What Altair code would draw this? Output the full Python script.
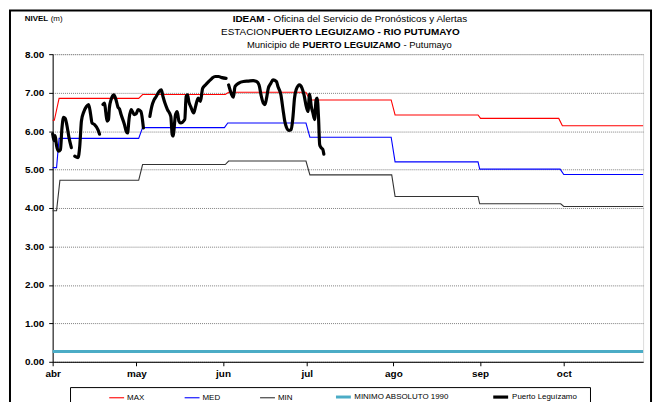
import altair as alt
import pandas as pd

# ---------------- data ----------------
series = ["MAX", "MED", "MIN", "MINIMO ABSOLUTO 1990", "Puerto Leguízamo"]
colores = ["#ff0000", "#0000ff", "#333333", "#4bacc6", "#000000"]
grosores = [1.1, 1.1, 1.1, 3.0, 3.2]

meses_dia = [0, 30, 61, 91, 122, 153, 183]
meses_txt = ["abr", "may", "jun", "jul", "ago", "sep", "oct"]
niveles_ticks = [0, 1, 2, 3, 4, 5, 6, 7, 8]

max_dia = [0, 0.6, 2.3, 30.8, 32.2, 61.8, 63.0, 90.7, 92.1, 121.2, 122.6, 152.3, 153.2, 181.2, 182.5, 211.4]
max_val = [6.28, 6.28, 6.85, 6.85, 6.95, 6.95, 7.01, 7.01, 6.81, 6.81, 6.42, 6.42, 6.33, 6.33, 6.14, 6.14]

med_dia = [0, 1.4, 2.3, 30.8, 32.2, 61.5, 62.7, 90.7, 92.1, 121.2, 122.6, 152.3, 152.9, 181.7, 183.0, 211.4]
med_val = [5.05, 5.05, 5.81, 5.81, 6.09, 6.09, 6.21, 6.21, 5.84, 5.84, 5.20, 5.20, 5.01, 5.01, 4.87, 4.87]

min_dia = [0, 1.4, 2.6, 30.8, 32.2, 61.8, 63.0, 90.7, 92.1, 121.4, 122.6, 152.3, 152.9, 181.9, 183.0, 211.4]
min_val = [3.93, 3.93, 4.72, 4.72, 5.13, 5.13, 5.22, 5.22, 4.86, 4.86, 4.30, 4.30, 4.11, 4.11, 4.04, 4.04]

abs_dia = [0, 211.4]
abs_val = [0.27, 0.27]

pl_dia_1 = [0.0, 0.5, 0.9, 1.4, 2.1, 2.8, 3.3, 3.9, 4.5, 5.1, 5.8, 6.7]
pl_val_1 = [5.93, 5.75, 5.88, 5.62, 5.48, 5.52, 6.05, 6.36, 6.33, 6.15, 5.85, 5.57]

pl_dia_2 = [7.9, 9.1, 9.7, 10.3, 11.2, 12.1, 12.9, 13.6, 14.1, 15.0, 16.2, 16.8]
pl_val_2 = [5.35, 5.31, 5.60, 6.26, 6.51, 6.64, 6.69, 6.43, 6.21, 6.17, 6.04, 5.92]

pl_dia_3 = [18.0, 18.6, 19.0, 19.5, 20.0, 20.3, 20.9, 21.9, 22.7, 23.4, 23.9, 24.5, 25.7, 26.3, 26.8,
            27.4, 28.1, 28.6, 29.2, 29.9, 30.6, 31.6, 32.5]
pl_val_3 = [6.69, 6.73, 6.50, 6.26, 6.30, 6.60, 6.81, 6.94, 6.81, 6.62, 6.58, 6.43, 6.17, 6.00, 5.95,
            6.34, 6.56, 6.50, 6.43, 6.45, 6.56, 6.51, 6.08]

pl_dia_4 = [34.8, 35.5, 36.3, 37.1, 38.1, 38.9, 39.5, 40.2, 41.1, 42.3, 42.8, 43.1, 44.0, 44.6, 45.2,
            45.8, 47.3, 47.8, 48.3, 48.8, 49.4, 50.5, 51.2, 52.1, 52.9, 53.7, 54.7, 55.9, 57.0, 58.2,
            59.4, 60.6, 62.1]
pl_val_4 = [6.38, 6.64, 6.81, 6.90, 7.03, 7.07, 6.90, 6.73, 6.56, 6.38, 5.91, 5.87, 6.43, 6.51, 6.26,
            6.21, 6.30, 6.90, 6.94, 6.75, 6.64, 6.47, 6.65, 6.86, 6.77, 7.11, 7.20, 7.29, 7.37, 7.42,
            7.42, 7.39, 7.37]

pl_dia_5 = [63.0, 63.6, 64.1, 64.7, 65.3, 66.5, 68.3, 70.1, 71.8, 73.0, 73.9, 74.6, 75.4, 76.0, 76.6,
            77.2, 78.1, 78.9, 80.1, 80.7, 81.7, 82.5, 83.1, 83.7, 84.5, 85.4, 86.0, 86.6, 87.2, 88.4,
            89.2, 90.0, 90.8, 91.4, 92.0, 92.6, 93.2, 93.8, 94.3, 94.7, 95.2, 95.6, 96.1, 96.7, 97.1]
pl_val_5 = [7.20, 7.05, 6.95, 6.88, 7.16, 7.24, 7.29, 7.30, 7.31, 7.29, 7.20, 6.94, 6.73, 6.69, 6.86,
            7.11, 7.24, 7.33, 7.29, 7.15, 6.95, 6.55, 6.26, 6.10, 6.02, 6.04, 6.34, 6.86, 7.08, 7.20,
            7.13, 6.94, 6.64, 6.51, 6.96, 6.64, 6.47, 6.30, 6.81, 6.86, 6.34, 5.65, 5.57, 5.53, 5.40]

# ---------------- tables ----------------
def rows_of(serie, tramo, dias, vals):
    return [{"serie": serie, "tramo": tramo, "dia": d, "nivel": v} for d, v in zip(dias, vals)]

ref_rows = (rows_of("MINIMO ABSOLUTO 1990", "a", abs_dia, abs_val)
            + rows_of("MIN", "m", min_dia, min_val)
            + rows_of("MED", "d", med_dia, med_val)
            + rows_of("MAX", "x", max_dia, max_val))
df_ref = pd.DataFrame(ref_rows)

pl_rows = []
for i, (d, v) in enumerate([(pl_dia_1, pl_val_1), (pl_dia_2, pl_val_2), (pl_dia_3, pl_val_3),
                            (pl_dia_4, pl_val_4), (pl_dia_5, pl_val_5)]):
    pl_rows += rows_of("Puerto Leguízamo", "t%d" % i, d, v)
df_pl = pd.DataFrame(pl_rows)

FONT = "Liberation Sans"
W, H = 595, 310

label_expr = "%s[indexof(%s, datum.value)]" % (str(meses_txt), str(meses_dia))

x_enc = alt.X(
    "dia:Q",
    scale=alt.Scale(domain=[0, 211.4], nice=False, zero=False),
    axis=alt.Axis(values=meses_dia, labelExpr=label_expr, title=None, grid=False,
                  tickSize=4, labelPadding=3, labelFontWeight="bold", labelFontSize=10,
                  labelColor="black", domainColor="black", tickColor="black",
                  labelFlush=False, labelOverlap=False, labelFont=FONT),
)
y_enc = alt.Y(
    "nivel:Q",
    scale=alt.Scale(domain=[0, 8], nice=False, zero=True),
    axis=alt.Axis(values=niveles_ticks, format=".2f", title=None, grid=True,
                  gridDash=[1, 1], gridColor="#808080", gridWidth=1,
                  tickSize=4, labelPadding=5, labelFontWeight="bold", labelFontSize=10,
                  labelColor="black", domainColor="black", tickColor="black",
                  labelFont=FONT),
)

leg = alt.Legend(title=None, orient="none", legendX=56, legendY=336, direction="horizontal",
                 symbolType="stroke", symbolSize=225, labelFontSize=8, labelFont=FONT,
                 labelColor="black", columnPadding=37, labelOffset=2, padding=0)

color_enc = alt.Color("serie:N", scale=alt.Scale(domain=series, range=colores), legend=leg)
sw_enc = alt.StrokeWidth("serie:N",
                         scale=alt.Scale(type="ordinal", domain=series, range=grosores),
                         legend=leg)

ref_lines = alt.Chart(df_ref).mark_line(strokeCap="butt").encode(
    x=x_enc, y=y_enc, color=color_enc, strokeWidth=sw_enc, detail="tramo:N"
)
pl_line = alt.Chart(df_pl).mark_line(interpolate="monotone", strokeCap="round",
                                     strokeJoin="round").encode(
    x=x_enc, y=y_enc, color=color_enc, strokeWidth=sw_enc, detail="tramo:N"
)

one = alt.Data(values=[{"k": 1}])

frame = alt.Chart(one).mark_rect(filled=False, stroke="black", strokeWidth=2).encode(
    x=alt.value(-43), x2=alt.value(603), y=alt.value(-44), y2=alt.value(420)
)
legend_box = alt.Chart(one).mark_rect(filled=False, stroke="black", strokeWidth=1).encode(
    x=alt.value(18), x2=alt.value(542), y=alt.value(336), y2=alt.value(420)
)

def txt(s, x, y, bold=False, align="left", size=10):
    return alt.Chart(one).mark_text(
        text=s, align=align, baseline="middle", font=FONT, fontSize=size,
        fontWeight="bold" if bold else "normal", color="black"
    ).encode(x=alt.value(x), y=alt.value(y))

texts = [
    txt("NIVEL", -28, -35, True, "left", 8),
    txt("(m)", -2, -35, False, "left", 8),
    txt("IDEAM -", 219.7, -35, True, "right"),
    txt("Oficina del Servicio de Pronósticos y Alertas", 222.5, -35, False, "left"),
    txt("ESTACION", 220, -22, False, "right"),
    txt("PUERTO LEGUIZAMO -  RIO PUTUMAYO", 220.5, -22, True, "left"),
    txt("Municipio de", 249.1, -9, False, "right", 9.5),
    txt("PUERTO LEGUIZAMO", 251.7, -9, True, "left", 9.5),
    txt("- Putumayo", 353.6, -9, False, "left", 9.5),
]

chart = alt.layer(frame, legend_box, ref_lines, pl_line, *texts).properties(
    width=W, height=H,
    autosize=alt.AutoSizeParams(type="none"),
    padding={"left": 45, "top": 45, "right": 12, "bottom": 40},
    background="white",
).configure_view(stroke="#999999", strokeWidth=1).configure(font=FONT)

chart.save("out.html", embed_options={"renderer": "svg", "actions": False})
